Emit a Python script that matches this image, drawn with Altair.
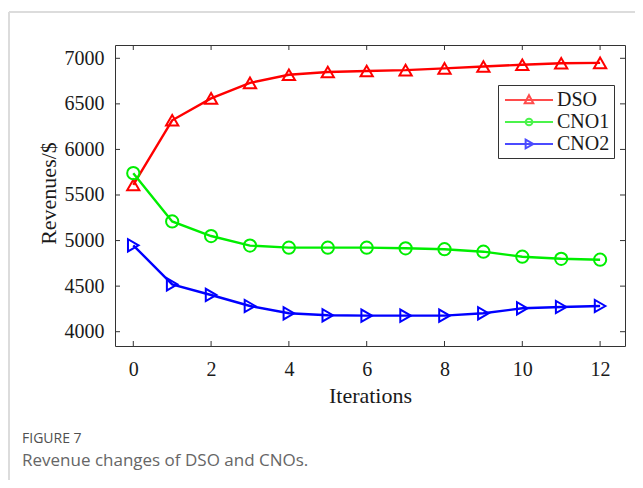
import altair as alt
import pandas as pd

# ---- data ----
iterations = list(range(13))
dso = [5610, 6320, 6560, 6730, 6820, 6850, 6860, 6870, 6890, 6910, 6930, 6945, 6950]
cno1 = [5740, 5210, 5050, 4945, 4922, 4922, 4922, 4915, 4905, 4878, 4823, 4800, 4790]
cno2 = [4948, 4520, 4403, 4282, 4202, 4180, 4176, 4176, 4176, 4202, 4257, 4271, 4282]
series_names = ["DSO", "CNO1", "CNO2"]
series_colors = ["#ff0000", "#00ee00", "#0000ff"]
x_ticks = [0, 2, 4, 6, 8, 10, 12]
y_ticks = [4000, 4500, 5000, 5500, 6000, 6500, 7000]

rows = []
for name, vals in zip(series_names, [dso, cno1, cno2]):
    for it, v in zip(iterations, vals):
        rows.append({"Iteration": it, "Revenue": v, "series": name})
df = pd.DataFrame(rows)

W, H = 510, 301
SERIF = "Liberation Serif"

xs = alt.Scale(domain=[-0.47, 12.64], nice=False, zero=False)
ys = alt.Scale(domain=[3843, 7146], nice=False, zero=False)
cs = alt.Scale(domain=series_names, range=series_colors)

x_axis = alt.Axis(values=x_ticks, format="d", ticks=False, domain=False, grid=False,
                  labelFont=SERIF, labelFontSize=20, labelColor="#1a1a1a", labelPadding=13,
                  title="Iterations", titleFont=SERIF, titleFontSize=22,
                  titleFontWeight="normal", titleColor="#1a1a1a",
                  titleX=W / 2, titleY=56, titleBaseline="alphabetic")
y_axis = alt.Axis(values=y_ticks, format="d", ticks=False, domain=False, grid=False,
                  labelFont=SERIF, labelFontSize=20, labelColor="#1a1a1a", labelPadding=11,
                  title="Revenues/$", titleFont=SERIF, titleFontSize=22,
                  titleFontWeight="normal", titleColor="#1a1a1a",
                  titleX=-67, titleY=148, titleAlign="center", titleBaseline="middle")

X = alt.X("Iteration:Q", scale=xs, axis=x_axis)
Y = alt.Y("Revenue:Q", scale=ys, axis=y_axis)

marker_shapes = ["triangle-up", "circle", "triangle-right"]
legend_paths = [
    "M-2.5,0H2.5M0,-0.5L0.45,0.35L-0.45,0.35Z",
    "M-2.5,0H2.5M0.35,0A0.35,0.35 0 1,1 -0.35,0A0.35,0.35 0 1,1 0.35,0Z",
    "M-2.5,0H2.5M-0.35,-0.45L0.45,0L-0.35,0.45Z",
]

base = alt.Chart(df)

lines = base.mark_line(strokeWidth=2.4).encode(
    x=X, y=Y,
    color=alt.Color("series:N", scale=cs, legend=None),
    detail="series:N",
)

points = base.mark_point(filled=False, strokeWidth=2, size=150, opacity=1).encode(
    x=X, y=Y,
    color=alt.Color("series:N", scale=cs, legend=None),
    shape=alt.Shape("series:N", scale=alt.Scale(domain=series_names, range=marker_shapes), legend=None),
)

legend_layer = base.transform_filter("false").mark_point(filled=False, strokeWidth=2, size=369).encode(
    x=X, y=Y,
    color=alt.Color("series:N", scale=alt.Scale(domain=series_names, range=series_colors),
                    legend=alt.Legend(title=None, orient="none", legendX=383, legendY=40)),
    shape=alt.Shape("series:N", scale=alt.Scale(domain=series_names, range=legend_paths),
                    legend=alt.Legend(title=None, orient="none", legendX=383, legendY=40)),
)

# inward tick marks on all four sides
xt = alt.Chart(pd.DataFrame({"Iteration": x_ticks}))
yt = alt.Chart(pd.DataFrame({"Revenue": y_ticks}))
tick_style = dict(color="#333333", strokeWidth=1)
xb = xt.mark_rule(**tick_style).encode(x=X, y=alt.value(H), y2=alt.value(H - 5))
xtop = xt.mark_rule(**tick_style).encode(x=X, y=alt.value(0), y2=alt.value(5))
yl = yt.mark_rule(**tick_style).encode(y=Y, x=alt.value(0), x2=alt.value(5))
yr = yt.mark_rule(**tick_style).encode(y=Y, x=alt.value(W), x2=alt.value(W - 5))

# page frame and caption
one = alt.Chart(pd.DataFrame({"a": [0]}))
frame_top = one.mark_rule(color="#dcdcdc", strokeWidth=2).encode(
    x=alt.value(-106), x2=alt.value(W + 12), y=alt.value(-33))
frame_left = one.mark_rule(color="#dcdcdc", strokeWidth=2).encode(
    x=alt.value(-106), y=alt.value(-33), y2=alt.value(H + 134))
fig_label = one.mark_text(align="left", baseline="middle", font="Open Sans", fontSize=14,
                          color="#505050").encode(
    x=alt.value(-93), y=alt.value(394), text=alt.value("FIGURE 7"))
caption = one.mark_text(align="left", baseline="middle", font="Open Sans", fontSize=17,
                        color="#666666").encode(
    x=alt.value(-93), y=alt.value(416), text=alt.value("Revenue changes of DSO and CNOs."))

chart = alt.layer(
    lines, frame_top, frame_left, xb, xtop, yl, yr, points, legend_layer, fig_label, caption
).resolve_scale(color="independent", shape="independent").properties(
    width=W, height=H,
    background="white",
    padding={"left": 107, "top": 37, "right": 10, "bottom": 134},
    autosize=alt.AutoSizeParams(type="none"),
).configure_view(
    stroke="#333333", strokeWidth=1
).configure_legend(
    strokeColor="#333333", fillColor="white", padding=4, cornerRadius=0,
    labelFont=SERIF, labelFontSize=20, labelColor="#1a1a1a",
    symbolStrokeWidth=2, symbolSize=369, rowPadding=1,
    symbolOffset=16, labelOffset=17,
)

chart.save("out.html", embed_options={"renderer": "svg", "actions": False})
